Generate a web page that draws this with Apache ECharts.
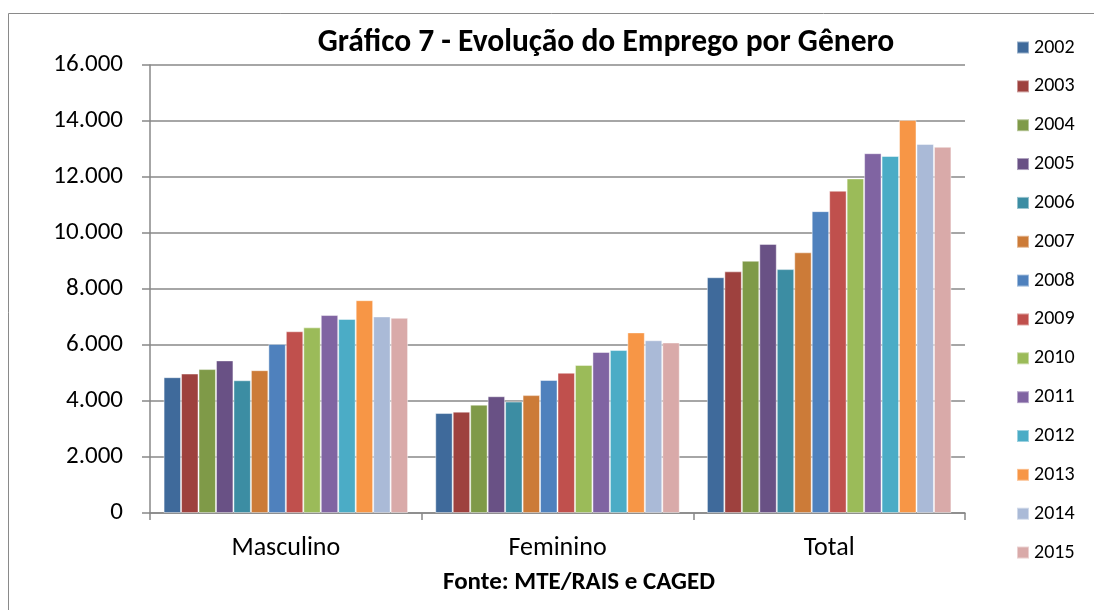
<!DOCTYPE html>
<html>
<head>
<meta charset="utf-8">
<script src="https://cdn.jsdelivr.net/npm/echarts@6/dist/echarts.min.js"></script>
<style>
  html, body { margin: 0; padding: 0; background: #fff; }
  #chart { width: 1094px; height: 610px; }
</style>
</head>
<body>
<div id="chart"></div>
<script>
// categorias e anos
const categories = ['Masculino', 'Feminino', 'Total']
const years = ['2002', '2003', '2004', '2005', '2006', '2007', '2008',
  '2009', '2010', '2011', '2012', '2013', '2014', '2015']

// valores por categoria
const masculino = [4850, 4980, 5140, 5450, 4740, 5100, 6040, 6490, 6630, 7070, 6930, 7600, 7020, 6970]
const feminino = [3570, 3620, 3870, 4170, 3980, 4210, 4750, 5010, 5290, 5750, 5820, 6450, 6170, 6090]
const total = [8420, 8630, 9010, 9610, 8710, 9310, 10780, 11510, 11950, 12850, 12750, 14040, 13180, 13080]

const colors = ['#3F6A9B', '#9E413E', '#7F9A48', '#695185', '#3C8DA3', '#CC7B38', '#4F81BD',
  '#C0504D', '#9BBB59', '#8064A2', '#4BACC6', '#F79646', '#AABAD7', '#D9AAA9']

const FONT = 'Carlito, Lato, "Liberation Sans", sans-serif'
const axisGray = '#888888'

const chart = echarts.init(document.getElementById('chart'))

const series = years.map((y, i) => ({
  name: y,
  type: 'bar',
  data: [masculino[i], feminino[i], total[i]],
  barGap: '0%',
  barCategoryGap: '10%',
  itemStyle: {
    color: colors[i],
    borderColor: 'rgba(255,255,255,0.45)',
    borderWidth: 1
  }
}))

chart.setOption({
  animation: false,
  color: colors,
  textStyle: { fontFamily: FONT },
  title: [
    {
      text: 'Gráfico 7 - Evolução do Emprego por Gênero',
      left: 601,
      top: 22,
      textAlign: 'center',
      textStyle: { fontSize: 31.5, fontWeight: 'bold', color: '#000', fontFamily: FONT }
    },
    {
      text: 'Fonte: MTE/RAIS e CAGED',
      left: 574,
      top: 565,
      textAlign: 'center',
      textStyle: { fontSize: 25, fontWeight: 'bold', color: '#000', fontFamily: FONT }
    }
  ],
  graphic: [
    {
      type: 'rect',
      shape: { x: 8.5, y: 13.5, width: 1200, height: 700 },
      style: { fill: 'none', stroke: '#8a8a8a', lineWidth: 1 },
      silent: true
    }
  ],
  legend: {
    orient: 'vertical',
    left: 1016,
    top: 37.5,
    padding: 0,
    icon: 'rect',
    itemWidth: 12,
    itemHeight: 12,
    itemGap: 18.85,
    textStyle: { fontSize: 20, lineHeight: 20, color: '#000', fontFamily: FONT },
    data: years
  },
  grid: { left: 150, right: 129, top: 65, bottom: 97 },
  xAxis: {
    type: 'category',
    data: categories,
    axisLine: { lineStyle: { color: axisGray, width: 1.5 } },
    axisTick: { show: true, length: 7, lineStyle: { color: axisGray, width: 1.5 } },
    axisLabel: { fontSize: 26, color: '#000', margin: 22, fontFamily: FONT }
  },
  yAxis: {
    type: 'value',
    min: 0,
    max: 16000,
    interval: 2000,
    axisLine: { show: true, lineStyle: { color: axisGray, width: 1.5 } },
    axisTick: { show: true, length: 8, lineStyle: { color: axisGray, width: 1.5 } },
    axisLabel: {
      fontSize: 25,
      color: '#000',
      margin: 27,
      fontFamily: FONT,
      formatter: v => v === 0 ? '0' : v.toString().replace(/\B(?=(\d{3})+(?!\d))/g, '.')
    },
    splitLine: { lineStyle: { color: axisGray, width: 1.5 } }
  },
  series: series
})
</script>
</body>
</html>
